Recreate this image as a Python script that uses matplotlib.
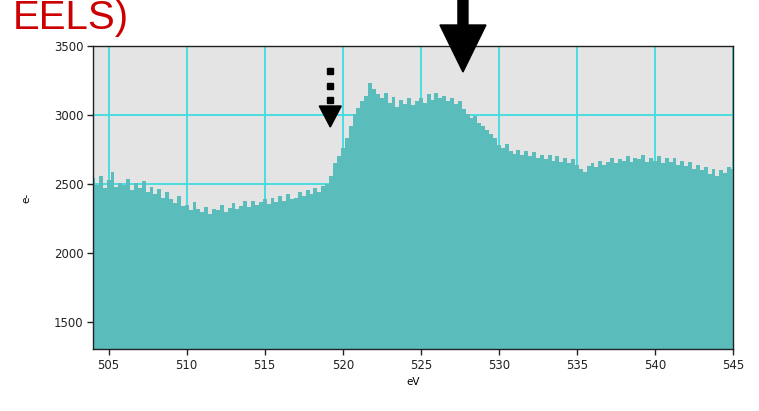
import numpy as np
import matplotlib
matplotlib.use("Agg")
import matplotlib.pyplot as plt
from matplotlib.patches import Polygon

# energy-loss axis (eV), 0.25 eV channels
ev_start, ev_stop, ev_step = 504.0, 545.0, 0.25

# counts per channel (e-)
counts = [
    2545, 2490, 2560, 2470,   # 504
    2530, 2585, 2480, 2510,   # 505
    2495, 2540, 2460, 2505,   # 506
    2470, 2520, 2440, 2480,   # 507
    2430, 2465, 2400, 2440,   # 508
    2395, 2360, 2410, 2340,   # 509
    2350, 2310, 2370, 2320,   # 510
    2300, 2335, 2280, 2320,   # 511
    2310, 2350, 2295, 2330,   # 512
    2365, 2320, 2340, 2375,   # 513
    2335, 2380, 2345, 2370,   # 514
    2390, 2355, 2400, 2370,   # 515
    2410, 2380, 2425, 2395,   # 516
    2400, 2440, 2415, 2455,   # 517
    2430, 2470, 2445, 2485,   # 518
    2500, 2560, 2650, 2700,   # 519
    2760, 2830, 2920, 3010,   # 520
    3050, 3100, 3140, 3230,   # 521
    3190, 3150, 3120, 3160,   # 522
    3090, 3130, 3060, 3110,   # 523
    3080, 3120, 3070, 3100,   # 524
    3120, 3090, 3150, 3110,   # 525
    3160, 3120, 3140, 3100,   # 526
    3120, 3080, 3100, 3040,   # 527
    3010, 2980, 2990, 2940,   # 528
    2920, 2890, 2860, 2830,   # 529
    2780, 2760, 2790, 2740,   # 530
    2720, 2750, 2710, 2740,   # 531
    2700, 2730, 2690, 2710,   # 532
    2680, 2710, 2670, 2700,   # 533
    2660, 2690, 2650, 2680,   # 534
    2640, 2610, 2590, 2630,   # 535
    2650, 2620, 2670, 2640,   # 536
    2660, 2690, 2650, 2680,   # 537
    2670, 2700, 2660, 2690,   # 538
    2680, 2710, 2660, 2690,   # 539
    2670, 2700, 2650, 2690,   # 540
    2660, 2690, 2640, 2670,   # 541
    2630, 2660, 2610, 2640,   # 542
    2600, 2620, 2570, 2610,   # 543
    2560, 2600, 2580, 2620,   # 544
    2610,                     # 545
]

x_ticks = [505, 510, 515, 520, 525, 530, 535, 540, 545]
y_ticks = [1500, 2000, 2500, 3000, 3500]

onset_ev = 519.2      # dotted marker: edge onset
peak_ev = 527.7       # solid marker: main feature

ev = np.arange(len(counts)) * ev_step + ev_start

fig = plt.figure(figsize=(7.59, 4.11), dpi=100)
ax = fig.add_axes([93 / 759, 1 - 349 / 411, 640 / 759, 303 / 411])
ax.set_facecolor("#E4E4E4")
ax.set_axisbelow(True)

ax.fill_between(ev, 0, counts, step="mid", color="#5BBCBC", linewidth=0, zorder=2)

ax.set_xlim(ev_start, ev_stop)
ax.set_ylim(1305, 3500)
ax.set_xticks(x_ticks)
ax.set_yticks(y_ticks)
ax.grid(True, color="#3FDCE0", linewidth=1.3)
for s in ax.spines.values():
    s.set_color("#222222")
    s.set_linewidth(1.0)
ax.tick_params(direction="out", length=4, width=1, labelsize=8.5,
               colors="#222222", pad=3)
ax.set_xlabel("eV", fontsize=7.5, labelpad=4)
ax.set_ylabel("e-", fontsize=7.5, labelpad=16)

# pixel-scale helpers for the arrow glyphs (data units per pixel)
px_x = (ev_stop - ev_start) / 640
px_y = (3500 - 1305) / 303

# dotted arrow at the edge onset
tip = 3500 - 81 * px_y
base = 3500 - 60 * px_y
ax.add_patch(Polygon([[onset_ev, tip], [onset_ev - 11 * px_x, base],
                      [onset_ev + 11 * px_x, base]],
                     closed=True, color="black", clip_on=False, zorder=5))
ax.plot([onset_ev] * 3, [3500 - 25.5 * px_y, 3500 - 40 * px_y, 3500 - 54.5 * px_y],
        "s", ms=5, color="black", clip_on=False, zorder=5)

# solid arrow over the main peak, shaft running off the top
tip = 3500 - 26 * px_y
base = 3500 + 21 * px_y
top = 3500 + 50 * px_y
hw, sw = 23 * px_x, 5 * px_x
ax.add_patch(Polygon([[peak_ev, tip], [peak_ev - hw, base], [peak_ev - sw, base],
                      [peak_ev - sw, top], [peak_ev + sw, top],
                      [peak_ev + sw, base], [peak_ev + hw, base]],
                     closed=True, color="black", clip_on=False, zorder=5))

fig.text(129 / 759, 1 - 29 / 411, "EELS)", ha="right", va="baseline",
         fontsize=29, color="#CC0000", family="Liberation Sans")

fig.savefig("out.png", dpi=100)
